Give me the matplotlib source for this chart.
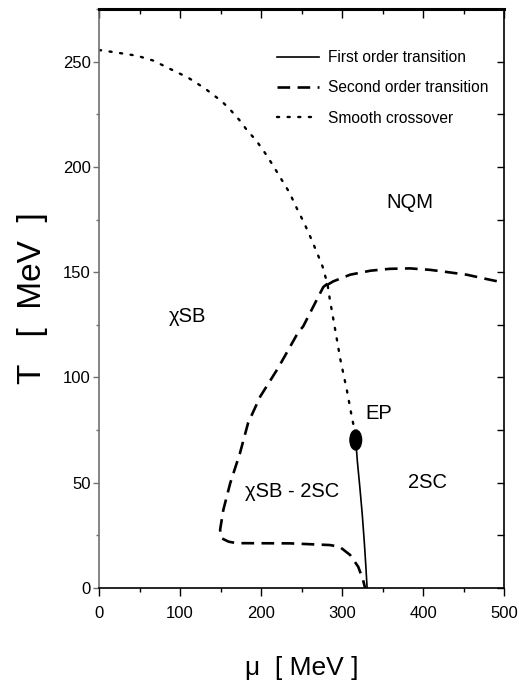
import numpy as np
import matplotlib
matplotlib.use("Agg")
import matplotlib.pyplot as plt
from matplotlib.patches import Ellipse
from matplotlib.ticker import MultipleLocator

plt.rcParams['font.family'] = ['Liberation Sans Narrow', 'Liberation Sans', 'DejaVu Sans']

# smooth crossover (dotted), mu / T in MeV
cross_mu = [0, 15, 47, 67, 88, 110, 131, 152, 162, 173, 183, 194, 205, 215,
            225, 235, 244, 253, 261, 269, 276, 280, 282, 285, 291, 298, 306, 312, 316]
cross_T = [255.5, 254.7, 252.8, 250.5, 246.5, 242.4, 237.2, 231, 227.2, 222.4, 217.3,
           212.6, 206.6, 200.6, 194.2, 187.9, 180.5, 173.6, 166.7, 159.4, 152.7, 147.2,
           144.5, 137, 124, 108.5, 94, 81.5, 74]

# second order: NQM boundary
nqm_mu = [282, 289, 310, 335, 359, 384, 409, 429, 454, 479, 500]
nqm_T = [144, 145.6, 148.8, 150.7, 151.6, 151.8, 151.1, 150.1, 148.8, 146.7, 145]

# second order: chiSB-2SC boundary
sc_mu = [282, 277, 269, 252, 246, 221, 199, 184, 174, 162, 153.5, 149.5, 151.5,
         160, 170, 236, 248, 285, 297, 310, 320, 326, 328.5]
sc_T = [144.5, 143, 137, 124.2, 121.5, 104.4, 90.9, 78.3, 64, 49.8, 37.1, 27.6, 23.6,
        22, 21.3, 21.2, 21, 20.4, 19.6, 15.7, 10.1, 3.8, 0]

# first order (solid), from the end point down to T = 0
first_mu = [317, 319, 322, 325, 327.5, 329.5, 331]
first_T = [70, 60, 48, 35, 22, 10, 0]

ep_mu, ep_T = 317, 70.3

phase_labels = ["NQM", "χSB", "χSB - 2SC", "2SC", "EP"]
label_mu = [384, 109, 239, 406, 345]
label_T = [183, 129, 46, 50, 83]

fig = plt.figure(figsize=(5.19, 6.96), dpi=100)
ax = fig.add_axes([99 / 519, 108 / 696, 405 / 519, 579 / 696])

ax.plot(first_mu, first_T, color="black", lw=1.2, label="First order transition")
ax.plot(nqm_mu, nqm_T, color="black", lw=1.9, dashes=(4.8, 2.8),
        label="Second order transition")
ax.plot(sc_mu, sc_T, color="black", lw=1.9, dashes=(4.8, 2.8))
ax.plot(cross_mu, cross_T, color="black", lw=1.7, dashes=(0.9, 3.6),
        dash_capstyle="round", label="Smooth crossover")
ax.add_patch(Ellipse((ep_mu, ep_T), 14.4, 9.5, color="black", zorder=5))

for txt, m, t in zip(phase_labels, label_mu, label_T):
    ax.text(m, t, txt, fontsize=14.5, ha="center", va="center")

ax.set_xlim(0, 500)
ax.set_ylim(0, 275)

ax.xaxis.set_major_locator(MultipleLocator(100))
ax.xaxis.set_minor_locator(MultipleLocator(50))
ax.yaxis.set_major_locator(MultipleLocator(50))
ax.yaxis.set_minor_locator(MultipleLocator(25))
ax.tick_params(axis="x", which="major", direction="out", length=6, width=1,
               labelsize=12, pad=7)
ax.tick_params(axis="x", which="minor", direction="out", length=3, width=1)
ax.tick_params(axis="y", which="major", direction="out", length=4, width=1,
               labelsize=12, pad=2, color="#707070")
ax.tick_params(axis="y", which="minor", direction="out", length=2.5, width=1,
               color="#707070")

top = ax.secondary_xaxis("top")
top.xaxis.set_major_locator(MultipleLocator(100))
top.xaxis.set_minor_locator(MultipleLocator(50))
top.tick_params(which="major", direction="in", length=6.5, width=1, labeltop=False)
top.tick_params(which="minor", direction="in", length=3.5, width=1)
right = ax.secondary_yaxis("right")
right.yaxis.set_major_locator(MultipleLocator(25))
right.yaxis.set_minor_locator(MultipleLocator(25))
right.tick_params(which="major", direction="in", length=5, width=1, labelright=False)
for sec in (top, right):
    for sp in sec.spines.values():
        sp.set_visible(False)

ax.spines["left"].set_color("#707070")
ax.spines["left"].set_linewidth(1.2)
ax.spines["bottom"].set_linewidth(1.2)
ax.spines["right"].set_linewidth(1.2)
ax.spines["top"].set_linewidth(2.2)

ax.set_xlabel("μ  [ MeV ]", fontsize=19)
ax.xaxis.set_label_coords(0.5, -0.118)
ax.set_ylabel("T   [  MeV  ]", fontsize=24, family=["Liberation Sans", "DejaVu Sans"])
ax.yaxis.set_label_coords(-0.125, 0.5)

ax.legend(loc="upper left", bbox_to_anchor=(0.4388, 0.929), frameon=False,
          fontsize=11.2, handlelength=2.75, handletextpad=0.55, labelspacing=0.98,
          borderpad=0, borderaxespad=0)

fig.savefig("out.png", dpi=100)
